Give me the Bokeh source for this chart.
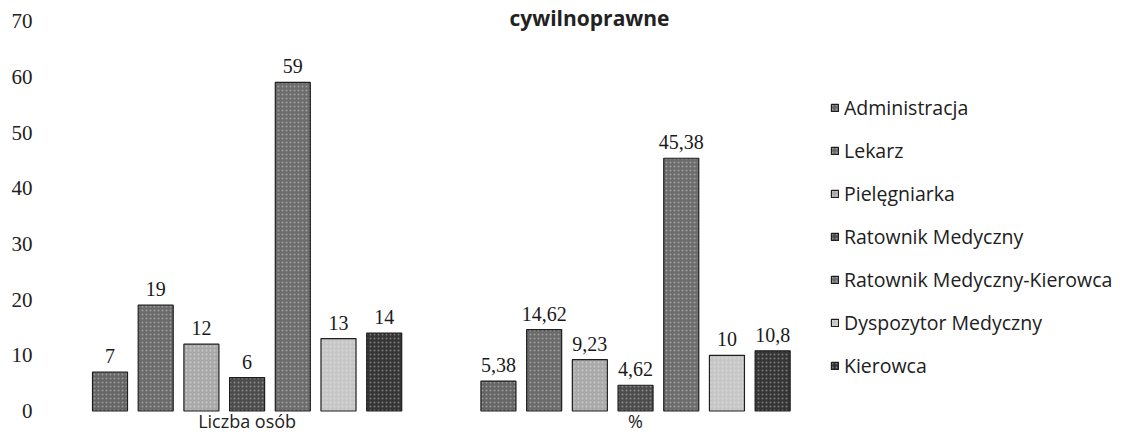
from bokeh.plotting import figure
from bokeh.models import ColumnDataSource, Range1d, FixedTicker, Legend, LegendItem, Label
from bokeh.embed import file_html
from bokeh.resources import INLINE
from bokeh.core.properties import value

groups = ["Liczba osób", "%"]
series = ["Administracja", "Lekarz", "Pielęgniarka", "Ratownik Medyczny",
          "Ratownik Medyczny-Kierowca", "Dyspozytor Medyczny", "Kierowca"]
counts = [7, 19, 12, 6, 59, 13, 14]
percents = [5.38, 14.62, 9.23, 4.62, 45.38, 10, 10.8]
colors = ["#656565", "#6a6a6a", "#a9a9a9", "#4c4c4c", "#6c6c6c", "#c6c6c6", "#343434"]
y_ticks = [0, 10, 20, 30, 40, 50, 60, 70]
title_text = "cywilnoprawne"

group_step = len(series) + 1.5

p = figure(width=1119, height=432, output_backend="svg", toolbar_location=None,
           x_range=Range1d(-1.521, 22.09), y_range=Range1d(-3.86, 73.7),
           min_border_left=40, min_border_right=0, min_border_top=0, min_border_bottom=0)
p.outline_line_color = None
p.grid.grid_line_color = None
p.background_fill_color = "white"
p.xaxis.visible = False

items = []
for i, (name, col) in enumerate(zip(series, colors)):
    vals = [counts[i], percents[i]]
    xs = [g * group_step + i for g in range(len(groups))]
    labs = [f"{v:g}".replace(".", ",") for v in vals]
    src = ColumnDataSource(dict(x=xs, top=vals, lab=labs))
    r = p.vbar(x="x", top="top", bottom=0, width=0.766, source=src, fill_color=col,
               line_color="#1e1e1e", line_width=1.2,
               hatch_pattern="dot", hatch_scale=4, hatch_weight=1.2,
               hatch_color="#ffffff", hatch_alpha=0.35)
    p.text(x="x", y="top", text="lab", source=src, text_align="center",
           text_baseline="alphabetic", y_offset=-16, text_font=value("Liberation Serif"),
           text_font_size="20px", text_color="#1a1a1a")
    items.append(LegendItem(label=name, renderers=[r]))

legend = Legend(items=items, location=(790, 53), orientation="vertical",
                glyph_width=9, glyph_height=9, label_height=24, spacing=16,
                label_standoff=5, padding=0, margin=0,
                label_text_font="Open Sans", label_text_font_size="19.5px",
                label_text_color="#202020", border_line_color=None,
                background_fill_alpha=0)
p.add_layout(legend)

p.yaxis.ticker = FixedTicker(ticks=y_ticks)
p.yaxis.axis_line_color = None
p.yaxis.major_tick_line_color = None
p.yaxis.minor_tick_line_color = None
p.yaxis.major_tick_out = 0
p.yaxis.major_label_standoff = 8
p.yaxis.major_label_text_font = "Liberation Serif"
p.yaxis.major_label_text_font_size = "21px"
p.yaxis.major_label_text_color = "#222222"

centers = [g * group_step + (len(series) - 1) / 2 for g in range(len(groups))]
gsrc = ColumnDataSource(dict(x=centers, y=[0] * len(groups), name=groups))
p.text(x="x", y="y", text="name", source=gsrc, text_align="center",
       text_baseline="middle", y_offset=10, text_font=value("Open Sans"),
       text_font_size="18px", text_color="#222222")

title = Label(x=549, y=415, x_units="screen", y_units="screen", text=title_text,
              text_font="Open Sans", text_font_style="bold", text_font_size="21px",
              text_align="center", text_baseline="alphabetic", text_color="#222222")
p.add_layout(title)

open("out.html", "w").write(file_html(p, INLINE))
